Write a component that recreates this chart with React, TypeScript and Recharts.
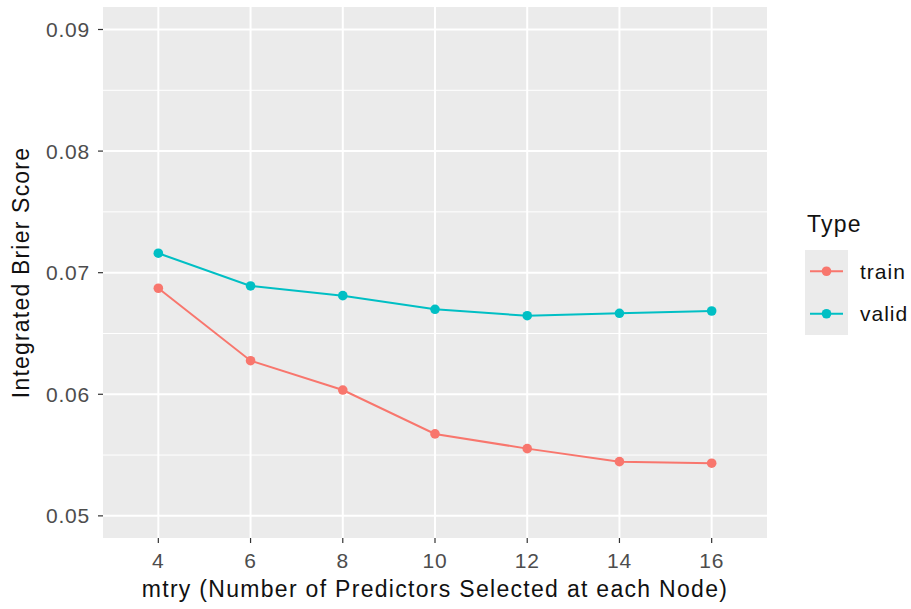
import React from "react";
import { LineChart, Line, XAxis, YAxis, CartesianGrid } from "recharts";

// mtry values tried during tuning
const mtry = [4, 6, 8, 10, 12, 14, 16];
// Integrated Brier Score on training and validation data
const trainScores = [0.06872, 0.06276, 0.06035, 0.05674, 0.05553, 0.05446, 0.05433];
const validScores = [0.0716, 0.06891, 0.06811, 0.06699, 0.06646, 0.06666, 0.06685];
// axis ticks
const yTicks = [0.05, 0.06, 0.07, 0.08, 0.09];
const yMinor = [0.055, 0.065, 0.075, 0.085];
const seriesNames = ["train", "valid"];

const COLORS: Record<string, string> = { train: "#F8766D", valid: "#00BFC4" };
const FONT = "'Liberation Sans', Arial, Helvetica, sans-serif";
const TITLE_SIZE = 23;
const TEXT_SIZE = 21;

const rows = mtry.map((m, i) => ({
  mtry: m,
  train: trainScores[i],
  valid: validScores[i],
}));

// Legend block drawn to the right of the panel
function TypeLegend() {
  const keyH = 42.5;
  return (
    <svg
      width={120}
      height={150}
      style={{ position: "absolute", left: 791, top: 200, overflow: "visible" }}
    >
      <text
        x={16}
        y={32}
        fontFamily={FONT}
        fontSize={TITLE_SIZE}
        fill="#111"
        style={{ letterSpacing: 1.2 }}
      >
        Type
      </text>
      <rect x={14} y={50} width={43} height={keyH * seriesNames.length} fill="#EBEBEB" />
      {seriesNames.map((name, i) => {
        const cy = 50 + keyH * i + keyH / 2;
        return (
          <g key={name}>
            <line x1={19} x2={52} y1={cy} y2={cy} stroke={COLORS[name]} strokeWidth={2} />
            <circle cx={35.5} cy={cy} r={4.8} fill={COLORS[name]} />
            <text
              x={69}
              y={cy}
              dy="0.35em"
              fontFamily={FONT}
              fontSize={TEXT_SIZE}
              fill="#111"
              style={{ letterSpacing: 1 }}
            >
              {name}
            </text>
          </g>
        );
      })}
    </svg>
  );
}

export default function App() {
  return (
    <div style={{ position: "absolute", left: 0, top: 0, width: 911, height: 609, background: "#fff" }}>
      <LineChart
        width={911}
        height={609}
        data={rows}
        margin={{ top: 7, right: 144, bottom: 41, left: 43 }}
      >
        <CartesianGrid
          fill="#EBEBEB"
          stroke="#FFFFFF"
          strokeWidth={1}
          vertical={false}
          horizontalValues={yMinor}
        />
        <CartesianGrid
          stroke="#FFFFFF"
          strokeWidth={2}
          horizontalValues={yTicks}
          verticalValues={mtry}
        />
        <XAxis
          dataKey="mtry"
          type="number"
          domain={[2.8, 17.2]}
          ticks={mtry}
          axisLine={false}
          tickSize={5}
          tickLine={{ stroke: "#333333", strokeWidth: 1.2 }}
          tick={{ fill: "#4D4D4D", fontSize: TEXT_SIZE, fontFamily: FONT, style: { letterSpacing: 0.8 } }}
          tickMargin={10}
          height={30}
          label={{
            value: "mtry (Number of Predictors Selected at each Node)",
            position: "insideBottom",
            offset: -29,
            fill: "#111",
            fontSize: TITLE_SIZE,
            fontFamily: FONT,
            style: { letterSpacing: 1.3 },
          }}
        />
        <YAxis
          type="number"
          domain={[0.04818, 0.09185]}
          ticks={yTicks}
          allowDataOverflow
          axisLine={false}
          tickSize={5}
          tickLine={{ stroke: "#333333", strokeWidth: 1.2 }}
          tick={{ fill: "#4D4D4D", fontSize: TEXT_SIZE, fontFamily: FONT, style: { letterSpacing: 0.8 } }}
          tickMargin={8}
          width={60}
          label={{
            value: "Integrated Brier Score",
            angle: -90,
            position: "insideLeft",
            offset: -22,
            style: { textAnchor: "middle", letterSpacing: 1.2 },
            fill: "#111",
            fontSize: TITLE_SIZE,
            fontFamily: FONT,
          }}
        />
        {seriesNames.map((name) => (
          <Line
            key={name}
            dataKey={name}
            type="linear"
            stroke={COLORS[name]}
            strokeWidth={2}
            dot={{ r: 4.8, fill: COLORS[name], stroke: "none" }}
            activeDot={false}
            isAnimationActive={false}
          />
        ))}
      </LineChart>
      <TypeLegend />
    </div>
  );
}
